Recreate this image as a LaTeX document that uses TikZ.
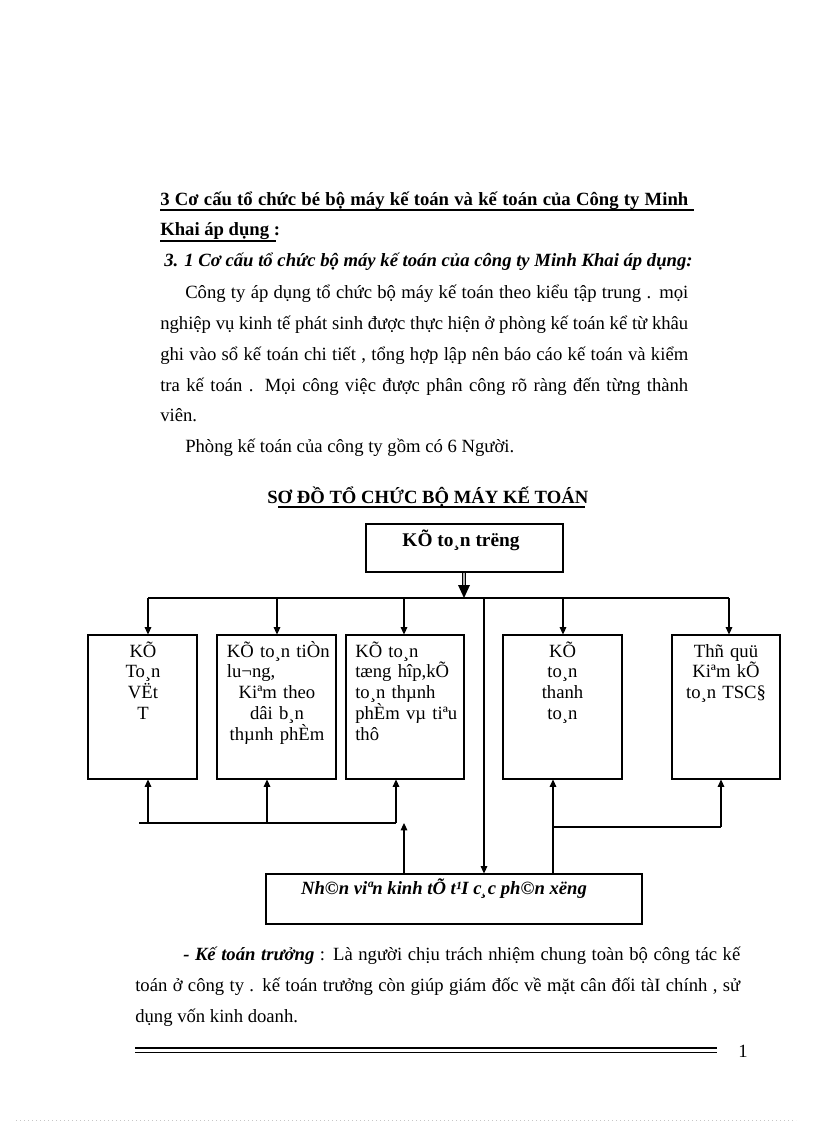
\documentclass[tikz,border=0pt]{standalone}
\usepackage{fontspec}
\setmainfont{Liberation Serif}
\usetikzlibrary{arrows.meta}
\begin{document}
\begin{tikzpicture}[x=0.75pt,y=-0.75pt,
  txt/.style={anchor=base west,inner sep=0pt,font=\fontsize{14}{16}\selectfont},
  bx/.style n args={2}{draw,line width=0.8pt,inner sep=0pt,minimum width=#1*0.75pt,minimum height=#2*0.75pt},
  btxt/.style={inner sep=0pt,font=\fontsize{14}{15.6}\selectfont,text width=#1*0.75pt},
  ln/.style={line width=0.8pt},
  arr/.style={line width=0.8pt,-{Triangle[width=5pt,length=5.5pt]}},
  uline/.style={line width=1pt}
]
\useasboundingbox (0,0) rectangle (816,1123);
% headings
\node[txt] (h1) at (160,205) {\makebox[396pt][s]{\bfseries 3 Cơ cấu tổ chức bé bộ máy kế toán và kế toán của Công ty Minh}};
\draw[uline] (160,210) -- (694,210);
\node[txt] (h2) at (160,236) {\bfseries Khai áp dụng :};
\draw[uline] (160,241) -- (276,241);
\node[txt] (h3) at (164,267) {\bfseries\itshape 3. 1 Cơ cấu tổ chức bộ máy kế toán của công ty Minh Khai áp dụng:};
% paragraph
\node[txt] (p1) at (185,298) {\makebox[377.25pt][s]{Công ty áp dụng tổ chức bộ máy kế toán theo kiểu tập trung . mọi}};
\node[txt] (p2) at (160,329) {\makebox[396pt][s]{nghiệp vụ kinh tế phát sinh được thực hiện ở phòng kế toán kể từ khâu}};
\node[txt] (p3) at (160,360) {\makebox[396pt][s]{ghi vào sổ kế toán chi tiết , tổng hợp lập nên báo cáo kế toán và kiểm}};
\node[txt] (p4) at (160,391) {\makebox[396pt][s]{tra kế toán . Mọi công việc được phân công rõ ràng đến từng thành}};
\node[txt] (p5) at (160,421) {viên.};
\node[txt] (p6) at (185,452) {Phòng kế toán của công ty gồm có 6 Người.};
% diagram title
\node[txt] (title) at (267,503) {\bfseries SƠ ĐỒ TỔ CHỨC BỘ MÁY KẾ TOÁN};
\draw[uline] (278,507) -- (585,507);
% boxes
\node[bx={197}{48}] (top) at (464.5,548) {};
\node[bx={109}{144}] (b1) at (142.5,707) {};
\node[bx={119}{144}] (b2) at (276.5,707) {};
\node[bx={118}{144}] (b3) at (405,707) {};
\node[bx={119}{144}] (b4) at (562.5,707) {};
\node[bx={108}{144}] (b5) at (726,707) {};
\node[bx={376}{50}] (bot) at (454,899) {};
% box texts
\node[inner sep=0pt,anchor=base,font=\fontsize{14.5}{16}\selectfont\bfseries] (t0) at (461,546) {KÕ to¸n trëng};
\node[btxt=100,anchor=base] (t1) at (143,657) {\centering KÕ\\To¸n\\VËt\\T\par};
\node[btxt=100,anchor=base west] (t2) at (226.7,657) {\raggedright \mbox{KÕ to¸n tiÒn}\\lu¬ng,\par\centering Kiªm theo\\dâi b¸n\\thµnh phÈm\par};
\node[btxt=105,anchor=base west] (t3) at (355,657) {\raggedright KÕ to¸n\\tæng hîp,kÕ\\to¸n thµnh\\phÈm vµ tiªu\\thô\par};
\node[btxt=100,anchor=base] (t4) at (562.5,657) {\centering KÕ\\to¸n\\thanh\\to¸n\par};
\node[btxt=100,anchor=base] (t5) at (726,657) {\centering Thñ quü\\Kiªm kÕ\\to¸n TSC§\par};
\node[inner sep=0pt,anchor=base,font=\fontsize{14}{16}\selectfont\bfseries\itshape] (t6) at (444,894) {Nh©n viªn kinh tÕ t¹I c¸c ph©n xëng};
% double arrow from top
\coordinate (j0) at (464,598);
\draw[line width=1pt,double=gray!60,double distance=1.6pt] (top.south -| j0) -- (464,586);
\fill (458,585) -- (470,585) -- (j0) -- cycle;
% top bus
\coordinate (busL) at (148,598);
\coordinate (busR) at (729,598);
\draw[ln] (busL) -- (busR);
\draw[arr] (busL) -- (b1.north -| busL);
\draw[arr] (277,598) -- (b2.north -| 277,0);
\draw[arr] (404,598) -- (b3.north -| 404,0);
\draw[arr] (563,598) -- (b4.north -| 563,0);
\draw[arr] (busR) -- (b5.north -| busR);
\draw[arr] (484,598) -- (bot.north -| 484,0);
% bottom-left bus
\coordinate (lbL) at (139,823);
\coordinate (lbR) at (396,823);
\draw[ln] (lbL) -- (lbR);
\draw[arr] (148,823) -- (b1.south -| 148,0);
\draw[arr] (267,823) -- (b2.south -| 267,0);
\draw[arr] (396,823) -- (b3.south -| 396,0);
\draw[arr] (bot.north -| 404,0) -- (404,823);
% bottom-right
\coordinate (rb1) at (553,827);
\coordinate (rb2) at (721,827);
\draw[arr] (bot.north -| rb1) -- (b4.south -| rb1);
\draw[ln] (rb1) -- (rb2);
\draw[arr] (rb2) -- (b5.south -| rb2);
% bottom text
\node[txt] (q1) at (183,960) {\makebox[417.75pt][s]{\textbf{\textit{- Kế toán trưởng}} : Là người chịu trách nhiệm chung toàn bộ công tác kế}};
\node[txt] (q2) at (135,991) {\makebox[453.75pt][s]{toán ở công ty . kế toán trưởng còn giúp giám đốc về mặt cân đối tàI chính , sử}};
\node[txt] (q3) at (135,1022) {dụng vốn kinh doanh.};
% footer
\draw[line width=1.1pt] (135,1048) -- (717,1048);
\draw[line width=0.7pt] (135,1052) -- (717,1052);
\node[txt] (pg) at (738,1057) {1};
\draw[gray!45,line width=0.5pt,dash pattern=on 0.6pt off 2.4pt] (16,1120) -- (796,1120);
\end{tikzpicture}
\end{document}
